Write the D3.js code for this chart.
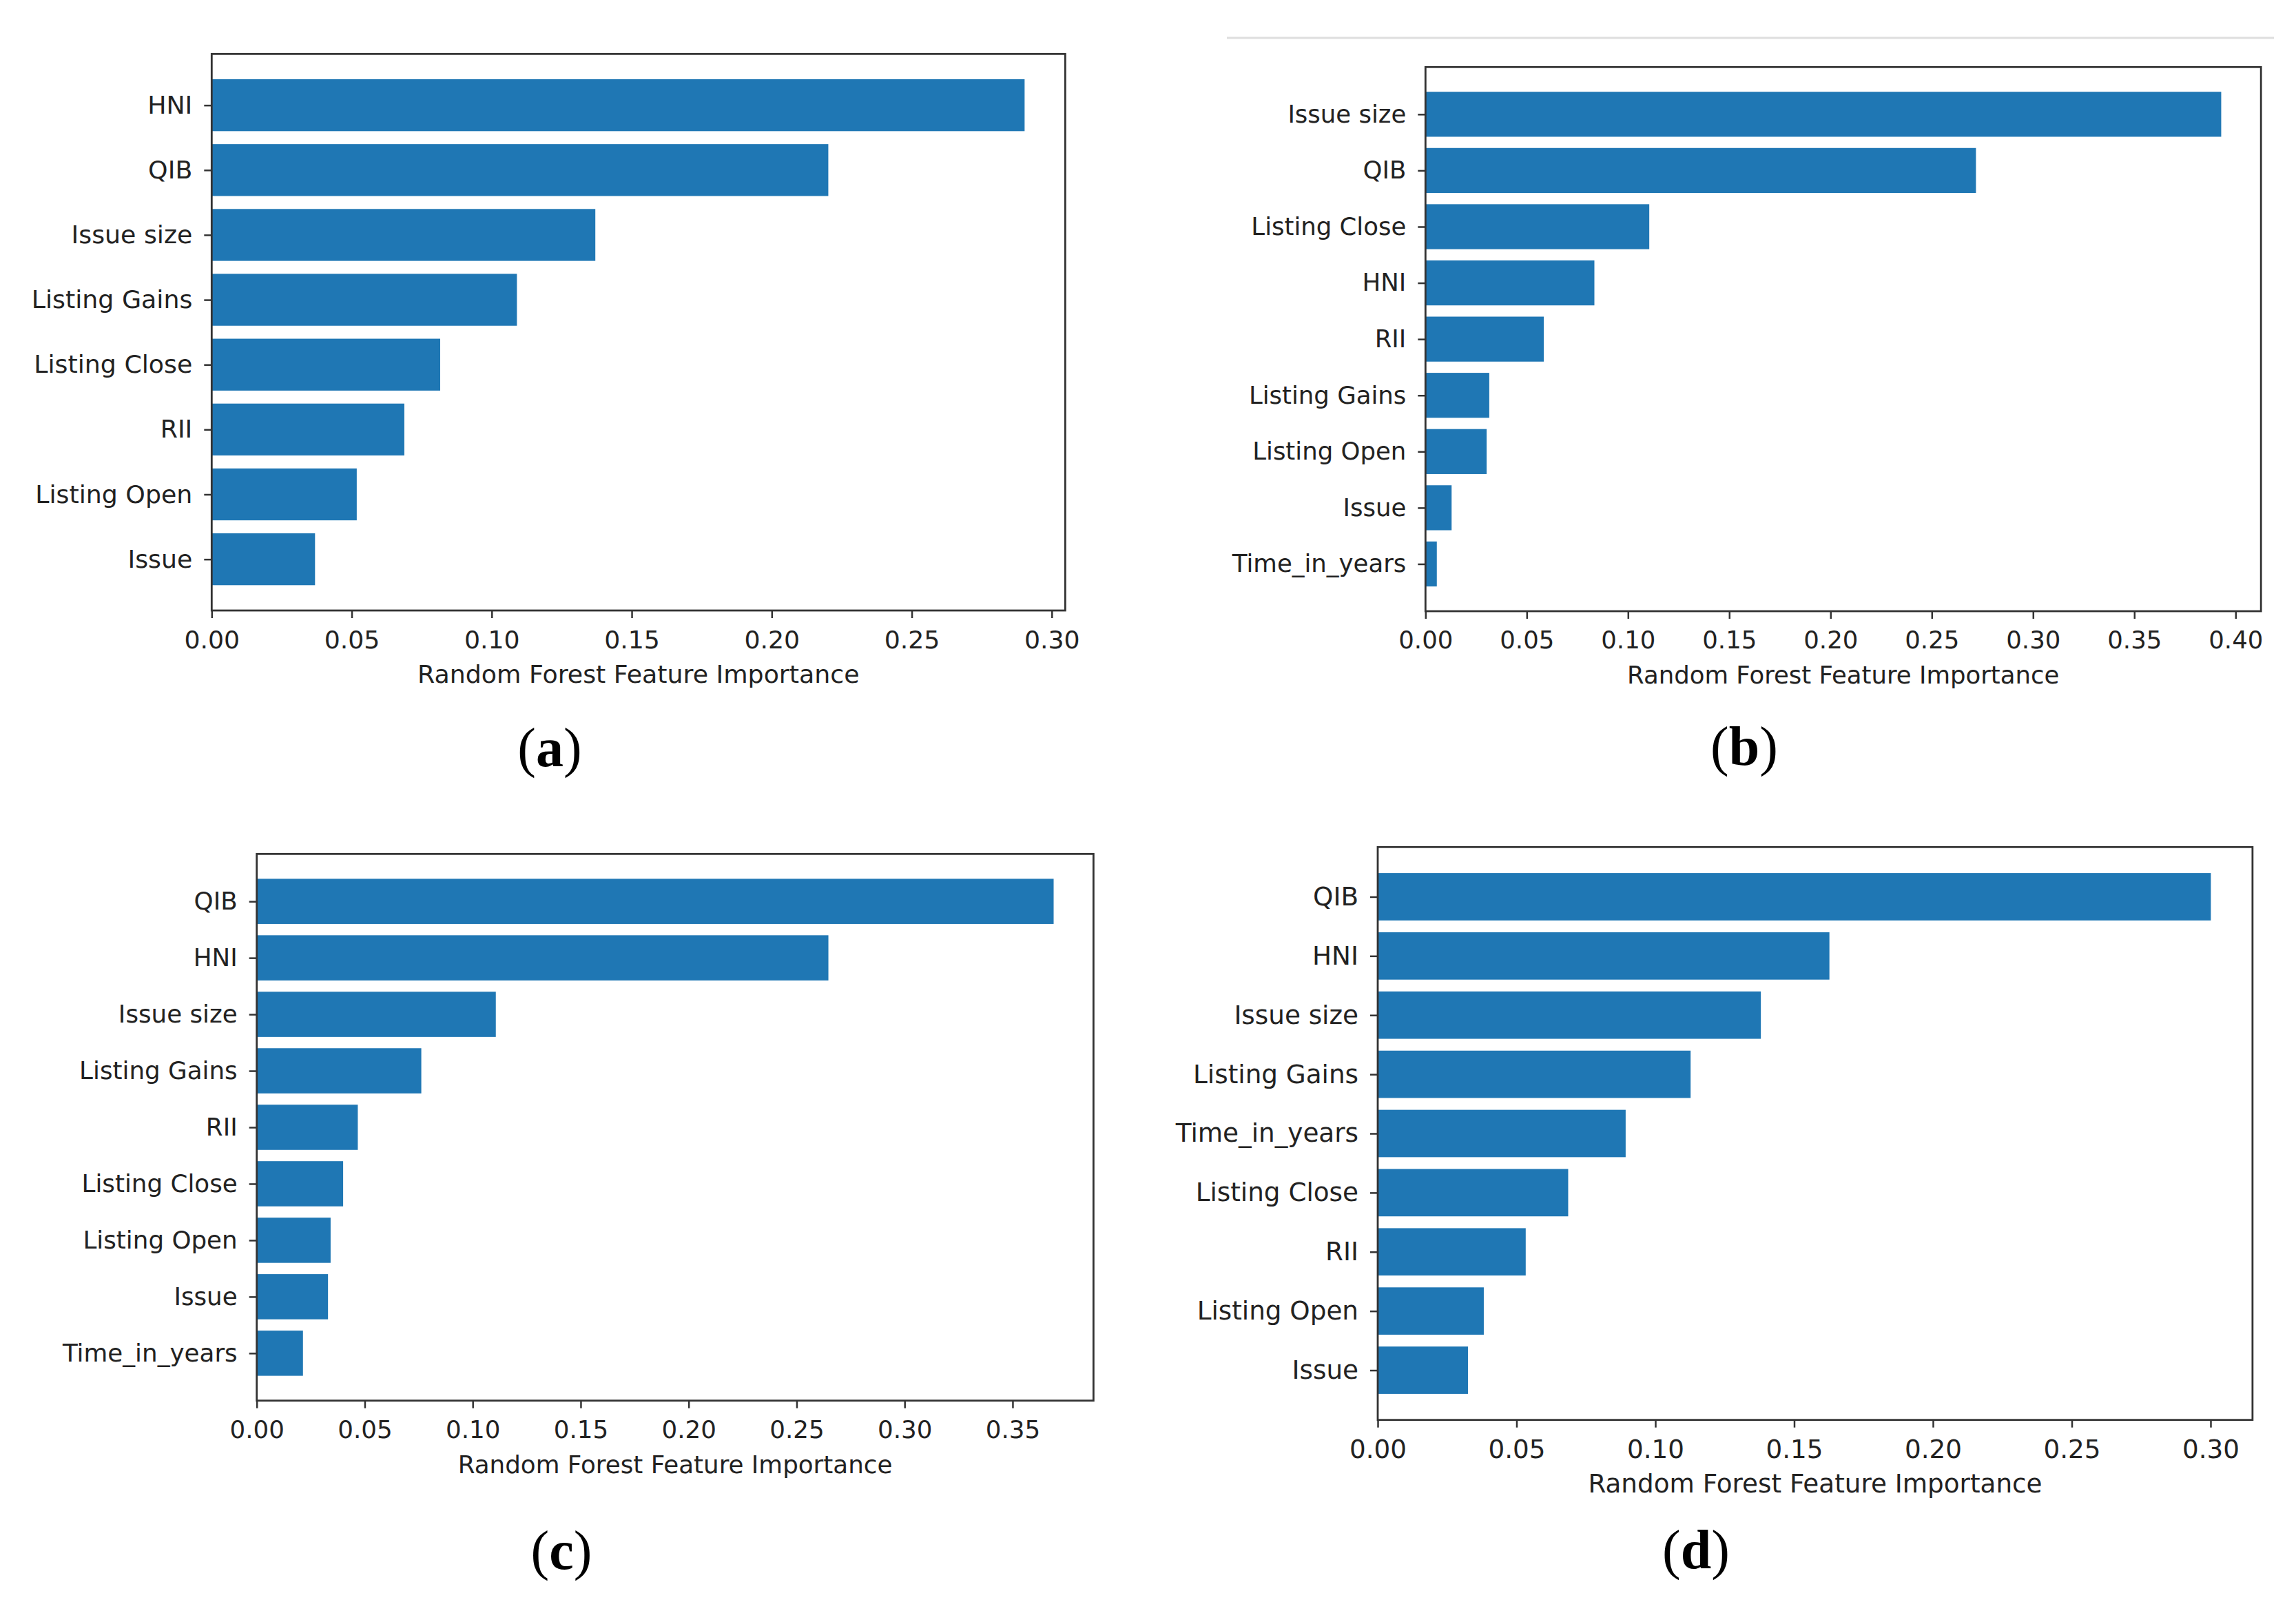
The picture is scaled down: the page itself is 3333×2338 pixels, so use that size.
<!DOCTYPE html>
<html>
<head>
<meta charset="utf-8">
<script src="https://cdn.jsdelivr.net/npm/d3@7"></script>
<style>
  body { margin: 0; background: #fff; }
  text { font-family: "DejaVu Sans", sans-serif; fill: #222; }
</style>
</head>
<body>
<div class="chart"></div>
<script>
// values
const labelsA = ["HNI", "QIB", "Issue size", "Listing Gains", "Listing Close", "RII", "Listing Open", "Issue"];
const valuesA = [0.2903, 0.2202, 0.1370, 0.1090, 0.0816, 0.0688, 0.0518, 0.0369];
const ticksA = [0, 0.05, 0.10, 0.15, 0.20, 0.25, 0.30];

const labelsB = ["Issue size", "QIB", "Listing Close", "HNI", "RII", "Listing Gains", "Listing Open", "Issue", "Time_in_years"];
const valuesB = [0.3929, 0.2718, 0.1105, 0.0834, 0.0584, 0.0315, 0.0302, 0.0129, 0.0056];
const ticksB = [0, 0.05, 0.10, 0.15, 0.20, 0.25, 0.30, 0.35, 0.40];

const labelsC = ["QIB", "HNI", "Issue size", "Listing Gains", "RII", "Listing Close", "Listing Open", "Issue", "Time_in_years"];
const valuesC = [0.3690, 0.2647, 0.1107, 0.0762, 0.0468, 0.0400, 0.0342, 0.0330, 0.0214];
const ticksC = [0, 0.05, 0.10, 0.15, 0.20, 0.25, 0.30, 0.35];

const labelsD = ["QIB", "HNI", "Issue size", "Listing Gains", "Time_in_years", "Listing Close", "RII", "Listing Open", "Issue"];
const valuesD = [0.3001, 0.1627, 0.1380, 0.1127, 0.0893, 0.0686, 0.0533, 0.0382, 0.0325];
const ticksD = [0, 0.05, 0.10, 0.15, 0.20, 0.25, 0.30];

const xTitle = "Random Forest Feature Importance";

// panel placement on the page
const panels = [
  {labels: labelsA, values: valuesA, ticks: ticksA, tag: "a", left: 307.3, ppu: 4065, top: 78.3, bottom: 886, fs: 36.3, capX: 798, capY: 1112},
  {labels: labelsB, values: valuesB, ticks: ticksB, tag: "b", left: 2069.3, ppu: 2940, top: 97.3, bottom: 887, fs: 35.5, capX: 2532, capY: 1110},
  {labels: labelsC, values: valuesC, ticks: ticksC, tag: "c", left: 372.7, ppu: 3135, top: 1239.3, bottom: 2032.7, fs: 35.7, capX: 815, capY: 2277},
  {labels: labelsD, values: valuesD, ticks: ticksD, tag: "d", left: 2000, ppu: 4030, top: 1229.3, bottom: 2060.7, fs: 37.3, capX: 2462, capY: 2276}
];

const W = 3333, H = 2338;
const svg = d3.select(".chart").append("svg")
  .attr("width", W)
  .attr("height", H);

svg.append("rect").attr("width", W).attr("height", H).attr("fill", "#fff");

// thin grey rule above panel (b)
svg.append("line")
  .attr("x1", 1781).attr("x2", 3301)
  .attr("y1", 55).attr("y2", 55)
  .attr("stroke", "#dedede")
  .attr("stroke-width", 3);

panels.forEach(p => {
  const n = p.labels.length;
  const xmax = d3.max(p.values) * 1.05;   // matplotlib default margin
  const right = p.left + xmax * p.ppu;

  const xScale = d3.scaleLinear()
    .domain([0, xmax])
    .range([p.left, right]);

  const m = 0.05 * (n - 1 + 0.8);
  const yScale = d3.scaleLinear()
    .domain([-0.4 - m, n - 1 + 0.4 + m])
    .range([p.top, p.bottom]);

  const g = svg.append("g").attr("class", "panel-" + p.tag);

  g.selectAll("rect.bar")
    .data(p.values)
    .enter()
    .append("rect")
    .attr("class", "bar")
    .attr("x", xScale(0))
    .attr("y", (d, i) => yScale(i - 0.4))
    .attr("width", d => xScale(d) - xScale(0))
    .attr("height", (d, i) => yScale(i + 0.4) - yScale(i - 0.4))
    .attr("fill", "#1f77b4");

  const xAxis = d3.axisBottom(xScale)
    .tickValues(p.ticks)
    .tickFormat(d3.format(".2f"))
    .tickSize(11)
    .tickPadding(18);

  const yAxis = d3.axisLeft(yScale)
    .tickValues(d3.range(n))
    .tickFormat(i => p.labels[i])
    .tickSize(11)
    .tickPadding(17);

  const gx = g.append("g")
    .attr("class", "axis x-axis")
    .attr("transform", `translate(0, ${p.bottom})`)
    .call(xAxis);

  const gy = g.append("g")
    .attr("class", "axis y-axis")
    .attr("transform", `translate(${p.left}, 0)`)
    .call(yAxis);

  [gx, gy].forEach(a => {
    a.select(".domain").remove();
    a.selectAll(".tick line").attr("stroke", "#333").attr("stroke-width", 2.5);
    a.selectAll(".tick text")
      .attr("font-size", p.fs)
      .attr("font-family", "DejaVu Sans")
      .attr("fill", "#222");
  });

  // frame
  g.append("rect")
    .attr("x", p.left)
    .attr("y", p.top)
    .attr("width", right - p.left)
    .attr("height", p.bottom - p.top)
    .attr("fill", "none")
    .attr("stroke", "#333")
    .attr("stroke-width", 2.8);

  g.append("text")
    .attr("x", (p.left + right) / 2)
    .attr("y", p.bottom + 105)
    .attr("text-anchor", "middle")
    .attr("font-size", p.fs)
    .text(xTitle);

  const cap = g.append("text")
    .attr("x", p.capX)
    .attr("y", p.capY)
    .attr("text-anchor", "middle")
    .attr("font-size", 80)
    .style("font-family", "'Liberation Serif', serif")
    .style("fill", "#000");
  cap.append("tspan").text("(");
  cap.append("tspan").attr("font-weight", "bold").text(p.tag);
  cap.append("tspan").text(")");
});
</script>
</body>
</html>
